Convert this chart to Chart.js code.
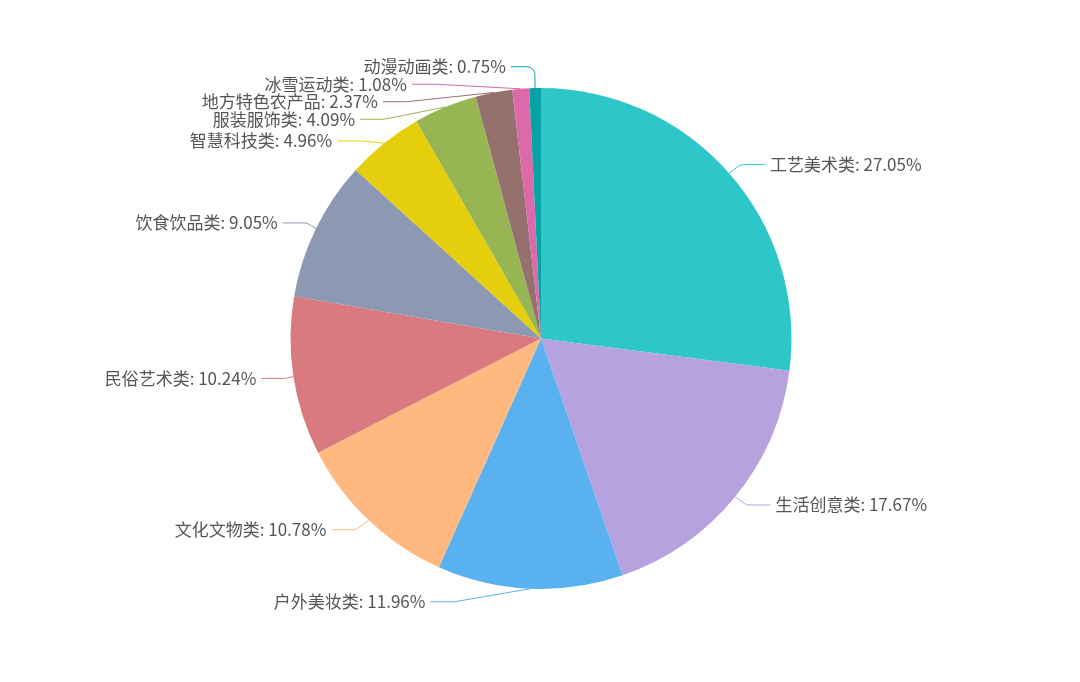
<!DOCTYPE html>
<html>
<head>
<meta charset="utf-8">
<script src="https://cdn.jsdelivr.net/npm/chart.js@4/dist/chart.umd.min.js"></script>
<style>
  html, body { margin: 0; padding: 0; background: #fff; }
  #wrap { width: 1080px; height: 682px; position: relative; }
</style>
</head>
<body>
<div id="wrap"><canvas id="pie"></canvas></div>
<script>
const categories = ['工艺美术类', '生活创意类', '户外美妆类', '文化文物类', '民俗艺术类', '饮食饮品类',
  '智慧科技类', '服装服饰类', '地方特色农产品', '冰雪运动类', '动漫动画类'];
const shares = [27.05, 17.67, 11.96, 10.78, 10.24, 9.05, 4.96, 4.09, 2.37, 1.08, 0.75];
const colors = ['#2ec7c9', '#b6a2de', '#5ab1ef', '#ffb980', '#d87a80', '#8d98b3',
  '#e5cf0d', '#97b552', '#95706d', '#dc69aa', '#07a2a4'];

// label line lengths, echarts-style outside labels
const LEN1 = 13, LEN2 = 24, GAP = 5, LABEL_H = 17.5;
const LABEL_FONT = '17px "Noto Sans CJK SC", "Noto Sans", sans-serif';

function adjustSide(list, cx, cy, r, dir, viewH) {
  list.sort((a, b) => a.y - b.y);
  const len = list.length;

  function shiftUp(end, delta) {
    for (let j = end; j >= 0; j--) {
      if (list[j].y - delta < 0) break;
      list[j].y -= delta;
      if (j > 0 && list[j].y > list[j - 1].y + LABEL_H) break;
    }
  }
  function shiftDown(start, end, delta) {
    for (let j = start; j < end; j++) {
      if (list[j].y + delta > viewH) break;
      list[j].y += delta;
      if (j > start && j + 1 < end && list[j + 1].y > list[j].y + LABEL_H) {
        shiftUp(j, delta / 2);
        return;
      }
    }
    shiftUp(end - 1, delta / 2);
  }

  let lastY = 0;
  for (let i = 0; i < len; i++) {
    const delta = list[i].y - lastY;
    if (delta < 0) shiftDown(i, len, -delta);
    lastY = list[i].y + LABEL_H;
  }

  const up = list.filter(it => it.y < cy);
  const down = list.filter(it => it.y >= cy);
  [[up, false], [down, true]].forEach(([part, isDown]) => {
    let last = isDown ? Number.MAX_VALUE : 0;
    part.forEach(it => {
      const dy = Math.abs(it.y - cy);
      const R = r + LEN1 + LEN2;
      let dx = dy < r + LEN1 ? Math.sqrt(R * R - dy * dy) : Math.abs(it.x - cx);
      if (isDown && dx >= last) dx = last - 10;
      if (!isDown && dx <= last) dx = last + 10;
      it.x = cx + dx * dir;
      last = dx;
    });
  });
}

const pieLabels = {
  id: 'pieLabels',
  afterDatasetsDraw(chart) {
    const ctx = chart.ctx;
    const meta = chart.getDatasetMeta(0);
    const items = meta.data.map((arc, i) => {
      const mid = (arc.startAngle + arc.endAngle) / 2;
      const dx = Math.cos(mid), dy = Math.sin(mid);
      const r = arc.outerRadius;
      const dir = dx < 0 ? -1 : 1;
      const x2 = arc.x + (r + LEN1) * dx;
      const y2 = arc.y + (r + LEN1) * dy;
      return {
        i, dir, r, cx: arc.x, cy: arc.y,
        x0: arc.x + r * dx, y0: arc.y + r * dy,
        x: x2 + dir * LEN2 + dir * GAP, y: y2,
        text: categories[i] + ': ' + shares[i].toFixed(2) + '%'
      };
    });
    if (!items.length) return;
    const { cx, cy, r } = items[0];
    const left = items.filter(it => it.x < cx);
    const right = items.filter(it => it.x >= cx);
    adjustSide(right, cx, cy, r, 1, chart.height);
    adjustSide(left, cx, cy, r, -1, chart.height);

    ctx.save();
    ctx.font = LABEL_FONT;
    ctx.textBaseline = 'middle';
    items.forEach(it => {
      const p2x = it.x - it.dir * GAP;
      const p1x = p2x - it.dir * LEN2;
      ctx.beginPath();
      ctx.strokeStyle = colors[it.i];
      ctx.lineWidth = 1;
      ctx.moveTo(it.x0, it.y0);
      ctx.arcTo(p1x, it.y, p2x, it.y, 8);
      ctx.lineTo(p2x, it.y);
      ctx.stroke();

      ctx.fillStyle = '#555';
      ctx.textAlign = it.dir < 0 ? 'right' : 'left';
      ctx.fillText(it.text, it.x, it.y);
    });
    ctx.restore();
  }
};

new Chart(document.getElementById('pie'), {
  type: 'pie',
  data: {
    labels: categories,
    datasets: [{
      data: shares,
      backgroundColor: colors,
      borderWidth: 0,
      hoverOffset: 0
    }]
  },
  options: {
    responsive: true,
    maintainAspectRatio: false,
    animation: false,
    layout: { padding: { top: 88, bottom: 93, left: 2, right: 0 } },
    plugins: {
      legend: { display: false },
      tooltip: { enabled: false }
    }
  },
  plugins: [pieLabels]
});
</script>
</body>
</html>
